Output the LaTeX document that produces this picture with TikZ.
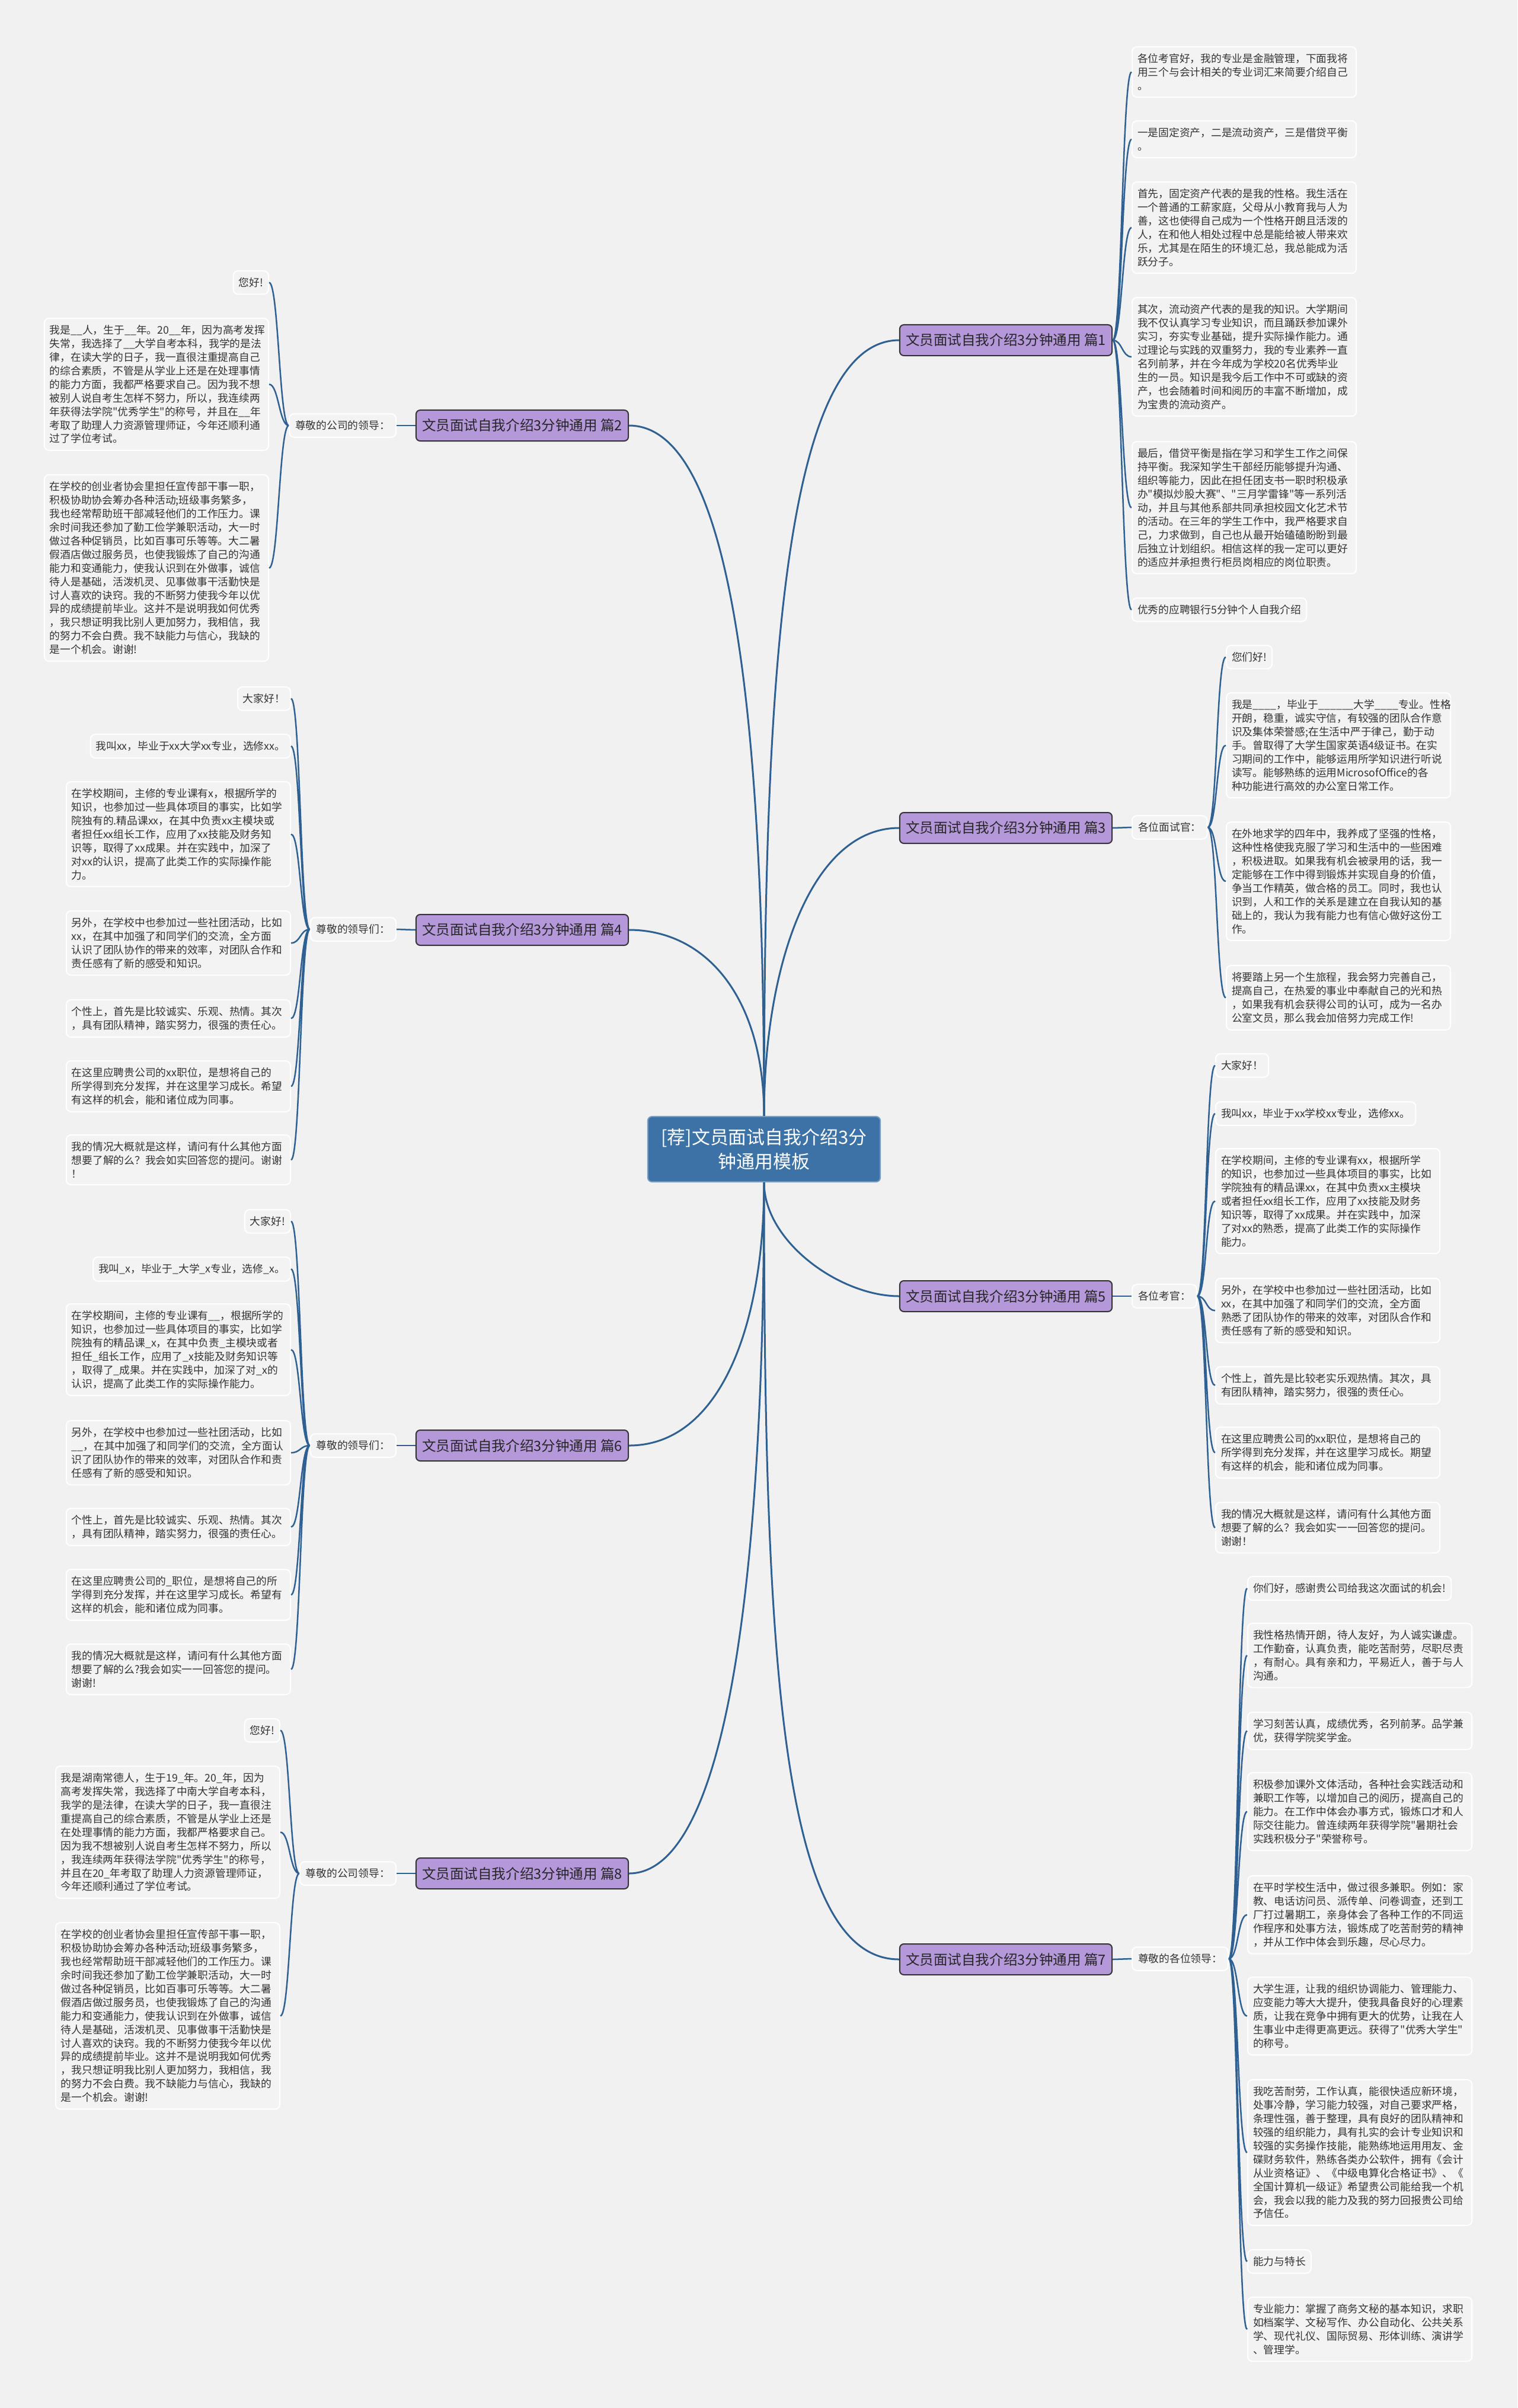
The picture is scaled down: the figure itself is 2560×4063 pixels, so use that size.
\documentclass[tikz,border=0pt]{standalone}
\usepackage{fontspec}
\newfontfamily\cjkfont{Noto Sans CJK SC}
\definecolor{bgc}{RGB}{241,241,241}
\definecolor{boxc}{RGB}{243,243,243}
\definecolor{edgec}{RGB}{46,96,146}
\definecolor{rootc}{RGB}{60,114,166}
\definecolor{topicc}{RGB}{181,152,218}
\definecolor{inkc}{RGB}{51,51,51}

\tikzset{
  link/.style={draw=edgec, line width=0.03cm},
  twig/.style={draw=edgec, line width=0.025cm},
  twigR/.style={twig, to path={.. controls +(16,0) and +(-16,0) .. (\tikztotarget)}},
  twigL/.style={twig, to path={.. controls +(-16,0) and +(16,0) .. (\tikztotarget)}},
  root/.style={fill=rootc, draw=rootc!70!white, line width=0.02cm, rounded corners=0.07cm,
    minimum width=3.92cm, minimum height=1.1cm, align=center, text=white,
    font=\fontsize{8.8pt}{11.6pt}\cjkfont},
  topic/.style={fill=topicc, draw=black!80, line width=0.02cm, rounded corners=0.07cm,
    minimum width=3.58cm, minimum height=0.52cm, inner sep=0.1cm, text=black!85,
    font=\fontsize{6.7pt}{8pt}\cjkfont},
  tagbox/.style={fill=boxc, draw=white, line width=0.02cm, rounded corners=0.08cm,
    inner xsep=0.09cm, inner ysep=0.115cm, text=inkc,
    font=\fontsize{5.05pt}{6.52pt}\cjkfont},
  headbox/.style={tagbox, inner xsep=0.1cm},
  leafbox/.style={tagbox, text width=3.6cm, align=left}
}

\begin{document}
\begin{tikzpicture}[x=0.01cm,y=-0.01cm]
  \fill[bgc] (0,0) rectangle (2560,4063);
  \useasboundingbox (0,0) rectangle (2560,4063);

  % centre and the eight topics
  \node[root] (root) at (1289,1939) {[荐]文员面试自我介绍3分\\钟通用模板};
  \node[topic] (p1) at (1697,574) {文员面试自我介绍3分钟通用 篇1};
  \node[topic] (p2) at (881,718) {文员面试自我介绍3分钟通用 篇2};
  \node[topic] (p3) at (1697,1397) {文员面试自我介绍3分钟通用 篇3};
  \node[topic] (p4) at (881,1569) {文员面试自我介绍3分钟通用 篇4};
  \node[topic] (p5) at (1697,2187) {文员面试自我介绍3分钟通用 篇5};
  \node[topic] (p6) at (881,2439) {文员面试自我介绍3分钟通用 篇6};
  \node[topic] (p7) at (1697,3306) {文员面试自我介绍3分钟通用 篇7};
  \node[topic] (p8) at (881,3161) {文员面试自我介绍3分钟通用 篇8};

  \draw[link] (root.north) .. controls +(0,-700) and +(-200,0) .. (p1.west);
  \draw[link] (root.north) .. controls +(0,-800) and +(150,0) .. (p2.east);
  \draw[link] (root.north) .. controls +(0,-250) and +(-150,0) .. (p3.west);
  \draw[link] (root.north) .. controls +(0,-200) and +(130,0) .. (p4.east);
  \draw[link] (root.south) .. controls +(0,100) and +(-100,0) .. (p5.west);
  \draw[link] (root.south) .. controls +(0,250) and +(150,0) .. (p6.east);
  \draw[link] (root.south) .. controls +(0,800) and +(-200,0) .. (p7.west);
  \draw[link] (root.south) .. controls +(0,750) and +(150,0) .. (p8.east);

  % 篇1
  \node[leafbox, anchor=north west] (p1a) at (1909,78) {各位考官好，我的专业是金融管理，下面我将\\用三个与会计相关的专业词汇来简要介绍自己\\。};
  \node[leafbox, anchor=north west] (p1b) at (1909,203) {一是固定资产，二是流动资产，三是借贷平衡\\。};
  \node[leafbox, anchor=north west] (p1c) at (1909,306) {首先，固定资产代表的是我的性格。我生活在\\一个普通的工薪家庭，父母从小教育我与人为\\善，这也使得自己成为一个性格开朗且活泼的\\人，在和他人相处过程中总是能给被人带来欢\\乐，尤其是在陌生的环境汇总，我总能成为活\\跃分子。};
  \node[leafbox, anchor=north west] (p1d) at (1909,501) {其次，流动资产代表的是我的知识。大学期间\\我不仅认真学习专业知识，而且踊跃参加课外\\实习，夯实专业基础，提升实际操作能力。通\\过理论与实践的双重努力，我的专业素养一直\\名列前茅，并在今年成为学校20名优秀毕业\\生的一员。知识是我今后工作中不可或缺的资\\产，也会随着时间和阅历的丰富不断增加，成\\为宝贵的流动资产。};
  \node[leafbox, anchor=north west] (p1e) at (1909,744) {最后，借贷平衡是指在学习和学生工作之间保\\持平衡。我深知学生干部经历能够提升沟通、\\组织等能力，因此在担任团支书一职时积极承\\办"模拟炒股大赛"、"三月学雷锋"等一系列活\\动，并且与其他系部共同承担校园文化艺术节\\的活动。在三年的学生工作中，我严格要求自\\己，力求做到，自己也从最开始磕磕盼盼到最\\后独立计划组织。相信这样的我一定可以更好\\的适应并承担贵行柜员岗相应的岗位职责。};
  \node[tagbox, anchor=north west] (p1f) at (1909,1008) {优秀的应聘银行5分钟个人自我介绍};
  \draw[twigR] (p1.east) to (p1a.west) (p1.east) to (p1b.west) (p1.east) to (p1c.west)
    (p1.east) to (p1d.west) (p1.east) to (p1e.west) (p1.east) to (p1f.west);

  % 篇2
  \node[headbox, anchor=east] (h2) at (669,718) {尊敬的公司的领导：};
  \node[tagbox, anchor=north east] (p2a) at (454,456) {您好!};
  \node[leafbox, anchor=north east] (p2b) at (454,536) {我是\_\_人，生于\_\_年。20\_\_年，因为高考发挥\\失常，我选择了\_\_大学自考本科，我学的是法\\律，在读大学的日子，我一直很注重提高自己\\的综合素质，不管是从学业上还是在处理事情\\的能力方面，我都严格要求自己。因为我不想\\被别人说自考生怎样不努力，所以，我连续两\\年获得法学院"优秀学生"的称号，并且在\_\_年\\考取了助理人力资源管理师证，今年还顺利通\\过了学位考试。};
  \node[leafbox, anchor=north east] (p2c) at (454,800) {在学校的创业者协会里担任宣传部干事一职，\\积极协助协会筹办各种活动;班级事务繁多，\\我也经常帮助班干部减轻他们的工作压力。课\\余时间我还参加了勤工俭学兼职活动，大一时\\做过各种促销员，比如百事可乐等等。大二暑\\假酒店做过服务员，也使我锻炼了自己的沟通\\能力和变通能力，使我认识到在外做事，诚信\\待人是基础，活泼机灵、见事做事干活勤快是\\讨人喜欢的诀窍。我的不断努力使我今年以优\\异的成绩提前毕业。这并不是说明我如何优秀\\，我只想证明我比别人更加努力，我相信，我\\的努力不会白费。我不缺能力与信心，我缺的\\是一个机会。谢谢!};
  \draw[twig] (p2.west) -- (h2.east);
  \draw[twigL] (h2.west) to (p2a.east) (h2.west) to (p2b.east) (h2.west) to (p2c.east);

  % 篇3
  \node[headbox, anchor=west] (h3) at (1909,1396) {各位面试官：};
  \node[tagbox, anchor=north west] (p3a) at (2068,1088) {您们好!};
  \node[leafbox, anchor=north west] (p3b) at (2068,1168) {我是\_\_\_\_，毕业于\_\_\_\_\_\_大学\_\_\_\_专业。性格\\开朗，稳重，诚实守信，有较强的团队合作意\\识及集体荣誉感;在生活中严于律己，勤于动\\手。曾取得了大学生国家英语4级证书。在实\\习期间的工作中，能够运用所学知识进行听说\\读写。能够熟练的运用MicrosofOffice的各\\种功能进行高效的办公室日常工作。};
  \node[leafbox, anchor=north west] (p3c) at (2068,1386) {在外地求学的四年中，我养成了坚强的性格，\\这种性格使我克服了学习和生活中的一些困难\\，积极进取。如果我有机会被录用的话，我一\\定能够在工作中得到锻炼并实现自身的价值，\\争当工作精英，做合格的员工。同时，我也认\\识到，人和工作的关系是建立在自我认知的基\\础上的，我认为我有能力也有信心做好这份工\\作。};
  \node[leafbox, anchor=north west] (p3d) at (2068,1628) {将要踏上另一个生旅程，我会努力完善自己，\\提高自己，在热爱的事业中奉献自己的光和热\\，如果我有机会获得公司的认可，成为一名办\\公室文员，那么我会加倍努力完成工作!};
  \draw[twig] (p3.east) -- (h3.west);
  \draw[twigR] (h3.east) to (p3a.west) (h3.east) to (p3b.west) (h3.east) to (p3c.west)
    (h3.east) to (p3d.west);

  % 篇4
  \node[headbox, anchor=east] (h4) at (669,1568) {尊敬的领导们：};
  \node[tagbox, anchor=north east] (p4a) at (491,1158) {大家好！};
  \node[tagbox, anchor=north east] (p4b) at (491,1238) {我叫xx，毕业于xx大学xx专业，选修xx。};
  \node[leafbox, anchor=north east] (p4c) at (491,1318) {在学校期间，主修的专业课有x，根据所学的\\知识，也参加过一些具体项目的事实，比如学\\院独有的.精品课xx，在其中负责xx主模块或\\者担任xx组长工作，应用了xx技能及财务知\\识等，取得了xx成果。并在实践中，加深了\\对xx的认识，提高了此类工作的实际操作能\\力。};
  \node[leafbox, anchor=north east] (p4d) at (491,1536) {另外，在学校中也参加过一些社团活动，比如\\xx，在其中加强了和同学们的交流，全方面\\认识了团队协作的带来的效率，对团队合作和\\责任感有了新的感受和知识。};
  \node[leafbox, anchor=north east] (p4e) at (491,1686) {个性上，首先是比较诚实、乐观、热情。其次\\，具有团队精神，踏实努力，很强的责任心。};
  \node[leafbox, anchor=north east] (p4f) at (491,1789) {在这里应聘贵公司的xx职位，是想将自己的\\所学得到充分发挥，并在这里学习成长。希望\\有这样的机会，能和诸位成为同事。};
  \node[leafbox, anchor=north east] (p4g) at (491,1914) {我的情况大概就是这样，请问有什么其他方面\\想要了解的么？我会如实回答您的提问。谢谢\\！};
  \draw[twig] (p4.west) -- (h4.east);
  \draw[twigL] (h4.west) to (p4a.east) (h4.west) to (p4b.east) (h4.west) to (p4c.east)
    (h4.west) to (p4d.east) (h4.west) to (p4e.east) (h4.west) to (p4f.east)
    (h4.west) to (p4g.east);

  % 篇5
  \node[headbox, anchor=west] (h5) at (1909,2187) {各位考官：};
  \node[tagbox, anchor=north west] (p5a) at (2050,1777) {大家好！};
  \node[tagbox, anchor=north west] (p5b) at (2050,1858) {我叫xx，毕业于xx学校xx专业，选修xx。};
  \node[leafbox, anchor=north west] (p5c) at (2050,1937) {在学校期间，主修的专业课有xx，根据所学\\的知识，也参加过一些具体项目的事实，比如\\学院独有的精品课xx，在其中负责xx主模块\\或者担任xx组长工作，应用了xx技能及财务\\知识等，取得了xx成果。并在实践中，加深\\了对xx的熟悉，提高了此类工作的实际操作\\能力。};
  \node[leafbox, anchor=north west] (p5d) at (2050,2156) {另外，在学校中也参加过一些社团活动，比如\\xx，在其中加强了和同学们的交流，全方面\\熟悉了团队协作的带来的效率，对团队合作和\\责任感有了新的感受和知识。};
  \node[leafbox, anchor=north west] (p5e) at (2050,2305) {个性上，首先是比较老实乐观热情。其次，具\\有团队精神，踏实努力，很强的责任心。};
  \node[leafbox, anchor=north west] (p5f) at (2050,2407) {在这里应聘贵公司的xx职位，是想将自己的\\所学得到充分发挥，并在这里学习成长。期望\\有这样的机会，能和诸位成为同事。};
  \node[leafbox, anchor=north west] (p5g) at (2050,2534) {我的情况大概就是这样，请问有什么其他方面\\想要了解的么？我会如实一一回答您的提问。\\谢谢！};
  \draw[twig] (p5.east) -- (h5.west);
  \draw[twigR] (h5.east) to (p5a.west) (h5.east) to (p5b.west) (h5.east) to (p5c.west)
    (h5.east) to (p5d.west) (h5.east) to (p5e.west) (h5.east) to (p5f.west)
    (h5.east) to (p5g.west);

  % 篇6
  \node[headbox, anchor=east] (h6) at (669,2439) {尊敬的领导们：};
  \node[tagbox, anchor=north east] (p6a) at (491,2040) {大家好!};
  \node[tagbox, anchor=north east] (p6b) at (491,2120) {我叫\_x，毕业于\_大学\_x专业，选修\_x。};
  \node[leafbox, anchor=north east] (p6c) at (491,2199) {在学校期间，主修的专业课有\_\_，根据所学的\\知识，也参加过一些具体项目的事实，比如学\\院独有的精品课\_x，在其中负责\_主模块或者\\担任\_组长工作，应用了\_x技能及财务知识等\\，取得了\_成果。并在实践中，加深了对\_x的\\认识，提高了此类工作的实际操作能力。};
  \node[leafbox, anchor=north east] (p6d) at (491,2396) {另外，在学校中也参加过一些社团活动，比如\\\_\_，在其中加强了和同学们的交流，全方面认\\识了团队协作的带来的效率，对团队合作和责\\任感有了新的感受和知识。};
  \node[leafbox, anchor=north east] (p6e) at (491,2544) {个性上，首先是比较诚实、乐观、热情。其次\\，具有团队精神，踏实努力，很强的责任心。};
  \node[leafbox, anchor=north east] (p6f) at (491,2647) {在这里应聘贵公司的\_职位，是想将自己的所\\学得到充分发挥，并在这里学习成长。希望有\\这样的机会，能和诸位成为同事。};
  \node[leafbox, anchor=north east] (p6g) at (491,2773) {我的情况大概就是这样，请问有什么其他方面\\想要了解的么?我会如实一一回答您的提问。\\谢谢!};
  \draw[twig] (p6.west) -- (h6.east);
  \draw[twigL] (h6.west) to (p6a.east) (h6.west) to (p6b.east) (h6.west) to (p6c.east)
    (h6.west) to (p6d.east) (h6.west) to (p6e.east) (h6.west) to (p6f.east)
    (h6.west) to (p6g.east);

  % 篇7
  \node[headbox, anchor=west] (h7) at (1909,3305) {尊敬的各位领导：};
  \node[tagbox, anchor=north west] (p7a) at (2104,2659) {你们好，感谢贵公司给我这次面试的机会!};
  \node[leafbox, anchor=north west] (p7b) at (2104,2738) {我性格热情开朗，待人友好，为人诚实谦虚。\\工作勤奋，认真负责，能吃苦耐劳，尽职尽责\\，有耐心。具有亲和力，平易近人，善于与人\\沟通。};
  \node[leafbox, anchor=north west] (p7c) at (2104,2888) {学习刻苦认真，成绩优秀，名列前茅。品学兼\\优，获得学院奖学金。};
  \node[leafbox, anchor=north west] (p7d) at (2104,2990) {积极参加课外文体活动，各种社会实践活动和\\兼职工作等，以增加自己的阅历，提高自己的\\能力。在工作中体会办事方式，锻炼口才和人\\际交往能力。曾连续两年获得学院"暑期社会\\实践积极分子"荣誉称号。};
  \node[leafbox, anchor=north west] (p7e) at (2104,3164) {在平时学校生活中，做过很多兼职。例如：家\\教、电话访问员、派传单、问卷调查，还到工\\厂打过暑期工，亲身体会了各种工作的不同运\\作程序和处事方法，锻炼成了吃苦耐劳的精神\\，并从工作中体会到乐趣，尽心尽力。};
  \node[leafbox, anchor=north west] (p7f) at (2104,3335) {大学生涯，让我的组织协调能力、管理能力、\\应变能力等大大提升，使我具备良好的心理素\\质，让我在竞争中拥有更大的优势，让我在人\\生事业中走得更高更远。获得了"优秀大学生"\\的称号。};
  \node[leafbox, anchor=north west] (p7g) at (2104,3508) {我吃苦耐劳，工作认真，能很快适应新环境，\\处事冷静，学习能力较强，对自己要求严格，\\条理性强，善于整理，具有良好的团队精神和\\较强的组织能力，具有扎实的会计专业知识和\\较强的实务操作技能，能熟练地运用用友、金\\碟财务软件，熟练各类办公软件，拥有《会计\\从业资格证》、《中级电算化合格证书》、《\\全国计算机一级证》希望贵公司能给我一个机\\会，我会以我的能力及我的努力回报贵公司给\\予信任。};
  \node[tagbox, anchor=north west] (p7h) at (2104,3795) {能力与特长};
  \node[leafbox, anchor=north west] (p7i) at (2104,3875) {专业能力：掌握了商务文秘的基本知识，求职\\如档案学、文秘写作、办公自动化、公共关系\\学、现代礼仪、国际贸易、形体训练、演讲学\\、管理学。};
  \draw[twig] (p7.east) -- (h7.west);
  \draw[twigR] (h7.east) to (p7a.west) (h7.east) to (p7b.west) (h7.east) to (p7c.west)
    (h7.east) to (p7d.west) (h7.east) to (p7e.west) (h7.east) to (p7f.west)
    (h7.east) to (p7g.west) (h7.east) to (p7h.west) (h7.east) to (p7i.west);

  % 篇8
  \node[headbox, anchor=east] (h8) at (669,3161) {尊敬的公司领导：};
  \node[tagbox, anchor=north east] (p8a) at (473,2899) {您好!};
  \node[leafbox, anchor=north east] (p8b) at (473,2979) {我是湖南常德人，生于19\_年。20\_年，因为\\高考发挥失常，我选择了中南大学自考本科，\\我学的是法律，在读大学的日子，我一直很注\\重提高自己的综合素质，不管是从学业上还是\\在处理事情的能力方面，我都严格要求自己。\\因为我不想被别人说自考生怎样不努力，所以\\，我连续两年获得法学院"优秀学生"的称号，\\并且在20\_年考取了助理人力资源管理师证，\\今年还顺利通过了学位考试。};
  \node[leafbox, anchor=north east] (p8c) at (473,3243) {在学校的创业者协会里担任宣传部干事一职，\\积极协助协会筹办各种活动;班级事务繁多，\\我也经常帮助班干部减轻他们的工作压力。课\\余时间我还参加了勤工俭学兼职活动，大一时\\做过各种促销员，比如百事可乐等等。大二暑\\假酒店做过服务员，也使我锻炼了自己的沟通\\能力和变通能力，使我认识到在外做事，诚信\\待人是基础，活泼机灵、见事做事干活勤快是\\讨人喜欢的诀窍。我的不断努力使我今年以优\\异的成绩提前毕业。这并不是说明我如何优秀\\，我只想证明我比别人更加努力，我相信，我\\的努力不会白费。我不缺能力与信心，我缺的\\是一个机会。谢谢!};
  \draw[twig] (p8.west) -- (h8.east);
  \draw[twigL] (h8.west) to (p8a.east) (h8.west) to (p8b.east) (h8.west) to (p8c.east);
\end{tikzpicture}
\end{document}
